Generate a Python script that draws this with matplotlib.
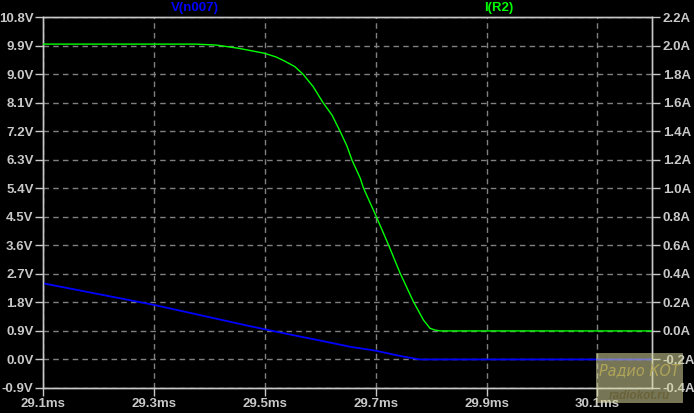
import matplotlib
matplotlib.use("Agg")
import matplotlib.pyplot as plt
import matplotlib.patches as mpatches
import numpy as np

# V(n007), left axis (volts)
v_t = [29.100, 29.300, 29.473, 29.533, 29.593, 29.654, 29.699, 29.744, 29.774, 29.780, 30.198]
v_val = [2.40, 1.72, 1.05, 0.83, 0.62, 0.40, 0.28, 0.11, 0.015, 0.0, 0.0]

# I(R2), right axis (amps)
i_t = [29.100, 29.374, 29.398, 29.413, 29.452, 29.499, 29.520, 29.536, 29.554,
       29.569, 29.587, 29.605, 29.621, 29.636, 29.648, 29.657, 29.672, 29.678, 29.701,
       29.723, 29.744, 29.768, 29.786, 29.798, 29.807, 29.816, 30.198]
i_val = [2.010, 2.010, 2.006, 2.003, 1.981, 1.946, 1.920, 1.890, 1.852,
         1.798, 1.712, 1.599, 1.513, 1.396, 1.296, 1.198, 1.070, 1.000, 0.801,
         0.603, 0.404, 0.205, 0.077, 0.018, 0.006, 0.0, 0.0]

x_ticks = [29.1, 29.3, 29.5, 29.7, 29.9, 30.1]
v_ticks = np.round(np.arange(-0.9, 10.81, 0.9), 1)
i_ticks = np.round(np.arange(-0.4, 2.21, 0.2), 1)

AXIS = "#c8c8c8"
GRID = "#808080"
FONT = ["Liberation Sans", "DejaVu Sans"]
FS = 9.5

plt.rcParams["font.family"] = FONT

fig = plt.figure(figsize=(6.94, 4.13), dpi=100, facecolor="black")
ax = fig.add_axes([43.3 / 694, 25 / 413, (651.7 - 43.3) / 694, 371 / 413])
ax.set_facecolor("black")
ax2 = ax.twinx()

ax.plot(v_t, v_val, color="#0000ff", linewidth=1.3, zorder=3)
ax2.plot(i_t, i_val, color="#00ff00", linewidth=1.0, zorder=3)

ax.set_xlim(29.1, 30.198)
ax.set_ylim(-0.9, 10.8)
ax2.set_ylim(-0.4, 2.2)

ax.set_xticks(x_ticks)
ax.set_xticklabels([f"{t:.1f}ms" for t in x_ticks])
ax.set_yticks(v_ticks)
ax.set_yticklabels([f"{v:.1f}V" for v in v_ticks])
ax2.set_yticks(i_ticks)
ax2.set_yticklabels([f"{a:.1f}A" for a in i_ticks])

for a in (ax, ax2):
    for s in a.spines.values():
        s.set_color(AXIS)
        s.set_linewidth(1.0)
    a.tick_params(colors=AXIS, labelcolor=AXIS, labelsize=FS, length=5.5, width=1.0)
    for lab in a.get_xticklabels() + a.get_yticklabels():
        lab.set_fontweight("bold")
ax.tick_params(axis="y", pad=1.5)
ax2.tick_params(axis="y", pad=2.5)
ax.tick_params(axis="x", pad=2)

ax.grid(True, color=GRID, linestyle=(0, (4, 3)), linewidth=1.0)
ax.set_axisbelow(True)

fig.text(194.5 / 694, 1 - 7.5 / 413, "V(n007)", color="#0000ff", fontsize=FS,
         fontweight="bold", ha="center", va="center")
fig.text(499 / 694, 1 - 7.5 / 413, "I(R2)", color="#00ff00", fontsize=FS,
         fontweight="bold", ha="center", va="center")

# watermark box in the lower right corner
fig.patches.append(mpatches.Rectangle((596 / 694, 1 - 403 / 413), 87 / 694, 50 / 413,
                                      transform=fig.transFigure, facecolor="#d8d8a0",
                                      alpha=0.55, edgecolor="none", zorder=5))
fig.text(639 / 694, 1 - 371 / 413, "Радио КОТ", color="#b0a458", fontsize=11.5,
         style="italic", fontstretch="condensed", family="DejaVu Sans",
         ha="center", va="center", zorder=6)
fig.text(639 / 694, 1 - 396 / 413, "radiokot.ru", color="#6a6238", fontsize=8.5,
         style="italic", fontweight="bold", ha="center", va="center", zorder=6)

fig.savefig("out.png", dpi=100, facecolor="black")
